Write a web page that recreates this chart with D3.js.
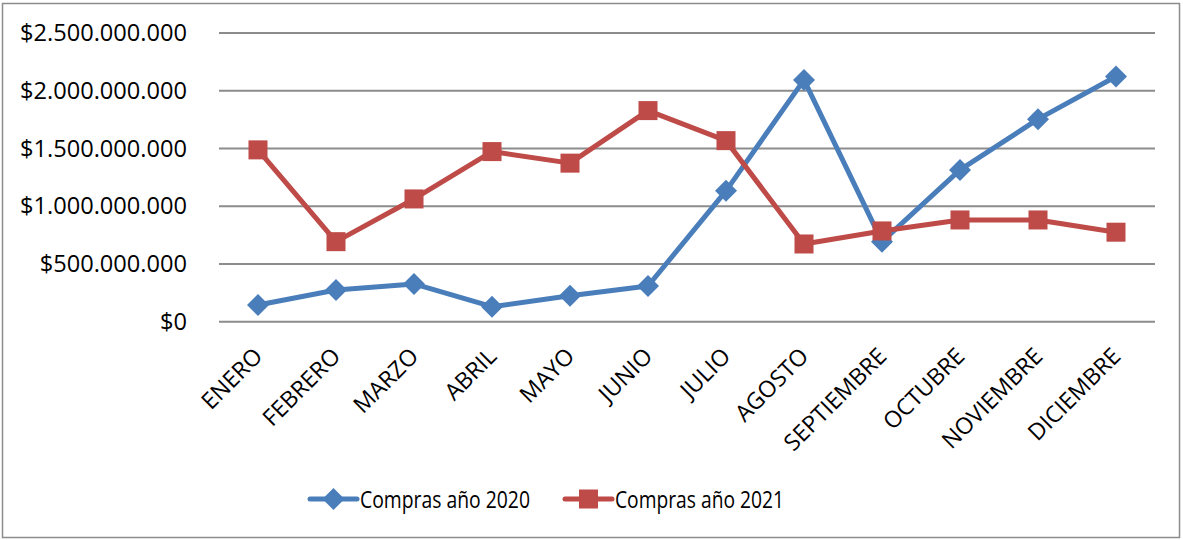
<!DOCTYPE html>
<html>
<head>
<meta charset="utf-8">
<script src="https://cdn.jsdelivr.net/npm/d3@7"></script>
<style>
  html, body { margin: 0; padding: 0; background: #fff; }
  svg { display: block; font-family: "Open Sans", "Liberation Sans", sans-serif; }
</style>
</head>
<body>
<svg id="chart" width="1183" height="540"></svg>
<script>
// Monthly purchases, in pesos
const months = ["ENERO", "FEBRERO", "MARZO", "ABRIL", "MAYO", "JUNIO", "JULIO",
                "AGOSTO", "SEPTIEMBRE", "OCTUBRE", "NOVIEMBRE", "DICIEMBRE"];
const compras2020 = [145e6, 275e6, 327e6, 130e6, 225e6, 309e6, 1133e6,
                     2094e6, 693e6, 1314e6, 1754e6, 2123e6];
const compras2021 = [1488e6, 693e6, 1063e6, 1473e6, 1373e6, 1828e6, 1568e6,
                     673e6, 786e6, 881e6, 881e6, 775e6];
const yTicks = [0, 500e6, 1000e6, 1500e6, 2000e6, 2500e6];
const seriesNames = ["Compras año 2020", "Compras año 2021"];

const svg = d3.select("#chart");
const W = 1183, H = 540;

// chart frame
svg.append("rect")
  .attr("x", 2.5).attr("y", 3.5).attr("width", W - 6).attr("height", H - 6)
  .attr("fill", "#fff").attr("stroke", "#8c8c8c").attr("stroke-width", 1.5);

const plot = { left: 219, right: 1155, top: 33, bottom: 321.7 };

const x = d3.scaleBand().domain(months).range([plot.left, plot.right]);
const y = d3.scaleLinear().domain([0, 2500e6]).range([plot.bottom, plot.top]);

const fmt = v => "$" + d3.format(",")(v).replace(/,/g, ".");

// horizontal gridlines
svg.append("g")
  .selectAll("line").data(yTicks).join("line")
  .attr("x1", plot.left).attr("x2", plot.right)
  .attr("y1", d => y(d)).attr("y2", d => y(d))
  .attr("stroke", "#8c8c8c").attr("stroke-width", 2);

// y axis labels
const yAxis = svg.append("g")
  .attr("transform", `translate(${plot.left - 32},0)`)
  .call(d3.axisLeft(y).tickValues(yTicks).tickFormat(fmt).tickSize(0).tickPadding(0));
yAxis.select(".domain").remove();
yAxis.selectAll("text")
  .attr("font-family", "'Open Sans', sans-serif")
  .attr("font-size", 23.6).attr("fill", "#000");

// x axis labels, rotated
const xAxis = svg.append("g")
  .attr("transform", `translate(0,${plot.bottom})`)
  .call(d3.axisBottom(x).tickSize(0).tickPadding(0));
xAxis.select(".domain").remove();
xAxis.selectAll("text")
  .attr("font-family", "'Open Sans', sans-serif")
  .attr("font-size", 23).attr("fill", "#000")
  .attr("text-anchor", "end")
  .attr("dy", 0).attr("y", 0)
  .attr("transform", "translate(6,36) rotate(-45)");

const series = [
  { name: seriesNames[0], values: compras2020, color: "#4A7EBB", marker: "diamond" },
  { name: seriesNames[1], values: compras2021, color: "#BE4B48", marker: "square" }
];

const line = d3.line()
  .x((d, i) => x(months[i]) + x.bandwidth() / 2)
  .y(d => y(d));

function drawMarker(g, type, color) {
  if (type === "diamond") {
    g.append("path").attr("d", "M0,-11 L11,0 L0,11 L-11,0 Z").attr("fill", color);
  } else {
    g.append("rect").attr("x", -9.5).attr("y", -9.5).attr("width", 19).attr("height", 19)
      .attr("fill", color);
  }
}

series.forEach(s => {
  svg.append("path")
    .datum(s.values)
    .attr("d", line)
    .attr("fill", "none")
    .attr("stroke", s.color)
    .attr("stroke-width", 5)
    .attr("stroke-linejoin", "round");
  svg.append("g").selectAll("g").data(s.values).join("g")
    .attr("transform", (d, i) => `translate(${x(months[i]) + x.bandwidth() / 2},${y(d)})`)
    .each(function () { drawMarker(d3.select(this), s.marker, s.color); });
});

// legend
const legendY = 499;
const legendItems = [
  { s: series[0], x0: 310, textW: 170 },
  { s: series[1], x0: 565, textW: 169 }
];
legendItems.forEach(item => {
  const g = svg.append("g");
  g.append("line")
    .attr("x1", item.x0).attr("x2", item.x0 + 47)
    .attr("y1", legendY).attr("y2", legendY)
    .attr("stroke", item.s.color).attr("stroke-width", 5).attr("stroke-linecap", "round");
  const m = g.append("g").attr("transform", `translate(${item.x0 + 23.5},${legendY})`);
  drawMarker(m, item.s.marker, item.s.color);
  g.append("text")
    .attr("x", item.x0 + 50).attr("y", 508)
    .attr("font-family", "'Open Sans', sans-serif")
    .attr("font-size", 23.5).attr("fill", "#000")
    .attr("textLength", item.textW)
    .attr("lengthAdjust", "spacingAndGlyphs")
    .text(item.s.name);
});
</script>
</body>
</html>
